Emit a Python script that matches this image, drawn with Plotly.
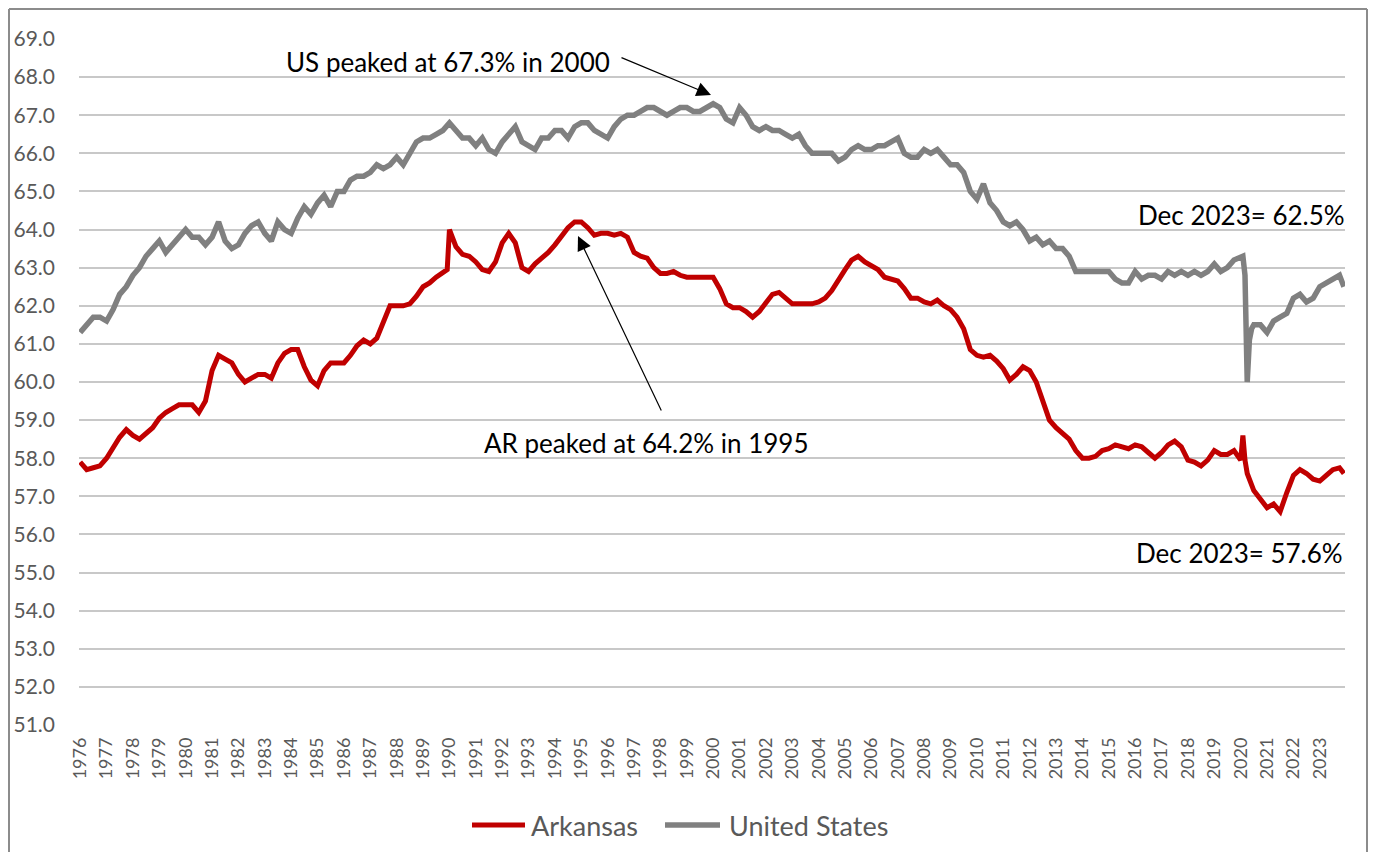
import plotly.graph_objects as go

# ---------------- data ----------------
YEARS = list(range(1976, 2024))
QUARTER_MONTHS = [1, 4, 7, 10]

# United States labour force participation rate, sampled Jan/Apr/Jul/Oct
us_quarterly = [
    61.3, 61.5, 61.7, 61.7,   # 1976
    61.6, 61.9, 62.3, 62.5,   # 1977
    62.8, 63.0, 63.3, 63.5,   # 1978
    63.7, 63.4, 63.6, 63.8,   # 1979
    64.0, 63.8, 63.8, 63.6,   # 1980
    63.8, 64.2, 63.7, 63.5,   # 1981
    63.6, 63.9, 64.1, 64.2,   # 1982
    63.9, 63.7, 64.2, 64.0,   # 1983
    63.9, 64.3, 64.6, 64.4,   # 1984
    64.7, 64.9, 64.6, 65.0,   # 1985
    65.0, 65.3, 65.4, 65.4,   # 1986
    65.5, 65.7, 65.6, 65.7,   # 1987
    65.9, 65.7, 66.0, 66.3,   # 1988
    66.4, 66.4, 66.5, 66.6,   # 1989
    66.8, 66.6, 66.4, 66.4,   # 1990
    66.2, 66.4, 66.1, 66.0,   # 1991
    66.3, 66.5, 66.7, 66.3,   # 1992
    66.2, 66.1, 66.4, 66.4,   # 1993
    66.6, 66.6, 66.4, 66.7,   # 1994
    66.8, 66.8, 66.6, 66.5,   # 1995
    66.4, 66.7, 66.9, 67.0,   # 1996
    67.0, 67.1, 67.2, 67.2,   # 1997
    67.1, 67.0, 67.1, 67.2,   # 1998
    67.2, 67.1, 67.1, 67.2,   # 1999
    67.3, 67.2, 66.9, 66.8,   # 2000
    67.2, 67.0, 66.7, 66.6,   # 2001
    66.7, 66.6, 66.6, 66.5,   # 2002
    66.4, 66.5, 66.2, 66.0,   # 2003
    66.0, 66.0, 66.0, 65.8,   # 2004
    65.9, 66.1, 66.2, 66.1,   # 2005
    66.1, 66.2, 66.2, 66.3,   # 2006
    66.4, 66.0, 65.9, 65.9,   # 2007
    66.1, 66.0, 66.1, 65.9,   # 2008
    65.7, 65.7, 65.5, 65.0,   # 2009
    64.8, 65.2, 64.7, 64.5,   # 2010
    64.2, 64.1, 64.2, 64.0,   # 2011
    63.7, 63.8, 63.6, 63.7,   # 2012
    63.5, 63.5, 63.3, 62.9,   # 2013
    62.9, 62.9, 62.9, 62.9,   # 2014
    62.9, 62.7, 62.6, 62.6,   # 2015
    62.9, 62.7, 62.8, 62.8,   # 2016
    62.7, 62.9, 62.8, 62.9,   # 2017
    62.8, 62.9, 62.8, 62.9,   # 2018
    63.1, 62.9, 63.0, 63.2,   # 2019
    63.3, 60.0, 61.5, 61.5,   # 2020
    61.3, 61.6, 61.7, 61.8,   # 2021
    62.2, 62.3, 62.1, 62.2,   # 2022
    62.5, 62.6, 62.7, 62.8,   # 2023
]
us_extra_months = ["2020-02-01", "2020-03-01", "2020-05-01", "2020-06-01", "2023-12-01"]
us_extra_values = [63.3, 62.8, 61.1, 61.4, 62.5]

# Arkansas labour force participation rate, sampled Jan/Apr/Jul/Oct
ar_quarterly = [
    57.9, 57.7, 57.75, 57.8,    # 1976
    58.0, 58.3, 58.55, 58.75,   # 1977
    58.6, 58.5, 58.65, 58.8,    # 1978
    59.05, 59.2, 59.3, 59.4,    # 1979
    59.4, 59.4, 59.2, 59.5,     # 1980
    60.3, 60.7, 60.6, 60.5,     # 1981
    60.2, 60.0, 60.1, 60.2,     # 1982
    60.2, 60.1, 60.5, 60.75,    # 1983
    60.85, 60.85, 60.4, 60.05,  # 1984
    59.9, 60.3, 60.5, 60.5,     # 1985
    60.5, 60.7, 60.95, 61.1,    # 1986
    61.0, 61.15, 61.55, 62.0,   # 1987
    62.0, 62.0, 62.05, 62.25,   # 1988
    62.5, 62.6, 62.75, 62.85,   # 1989
    64.0, 63.55, 63.35, 63.3,   # 1990
    63.15, 62.95, 62.9, 63.15,  # 1991
    63.65, 63.9, 63.65, 63.0,   # 1992
    62.9, 63.1, 63.25, 63.4,    # 1993
    63.6, 63.8, 64.05, 64.2,    # 1994
    64.2, 64.05, 63.85, 63.9,   # 1995
    63.9, 63.85, 63.9, 63.8,    # 1996
    63.4, 63.3, 63.25, 63.0,    # 1997
    62.85, 62.85, 62.9, 62.8,   # 1998
    62.75, 62.75, 62.75, 62.75, # 1999
    62.75, 62.45, 62.05, 61.95, # 2000
    61.95, 61.85, 61.7, 61.85,  # 2001
    62.1, 62.3, 62.35, 62.2,    # 2002
    62.05, 62.05, 62.05, 62.05, # 2003
    62.1, 62.2, 62.4, 62.7,     # 2004
    62.95, 63.2, 63.3, 63.15,   # 2005
    63.05, 62.95, 62.75, 62.7,  # 2006
    62.65, 62.45, 62.2, 62.2,   # 2007
    62.1, 62.05, 62.15, 62.0,   # 2008
    61.9, 61.7, 61.4, 60.85,    # 2009
    60.7, 60.65, 60.7, 60.55,   # 2010
    60.35, 60.05, 60.2, 60.4,   # 2011
    60.3, 60.0, 59.45, 59.0,    # 2012
    58.8, 58.65, 58.5, 58.2,    # 2013
    58.0, 58.0, 58.05, 58.2,    # 2014
    58.25, 58.35, 58.3, 58.25,  # 2015
    58.35, 58.3, 58.15, 58.0,   # 2016
    58.15, 58.35, 58.45, 58.3,  # 2017
    57.95, 57.9, 57.8, 57.95,   # 2018
    58.2, 58.1, 58.1, 58.2,     # 2019
    57.95, 57.6, 57.15, 56.9,   # 2020
    56.7, 56.8, 56.6, 57.1,     # 2021
    57.55, 57.7, 57.6, 57.45,   # 2022
    57.4, 57.55, 57.7, 57.75,   # 2023
]
ar_extra_months = ["1989-12-01", "2020-02-01", "2020-03-01", "2023-12-01"]
ar_extra_values = [62.95, 58.6, 57.95, 57.6]

tick_years = [str(y) for y in YEARS]

# ---------------- build series ----------------
quarter_dates = [f"{y}-{m:02d}-01" for y in YEARS for m in QUARTER_MONTHS]


def merge(dates, vals, extra_dates, extra_vals):
    pts = sorted(zip(dates + extra_dates, vals + extra_vals))
    return [p[0] for p in pts], [p[1] for p in pts]


us_x, us_y = merge(quarter_dates, us_quarterly, us_extra_months, us_extra_values)
ar_x, ar_y = merge(quarter_dates, ar_quarterly, ar_extra_months, ar_extra_values)

# the page body adds an 8 px margin; keep the figure inside the window
OFF = 8
W, H = 1376 - 2 * OFF, 860 - 2 * OFF
RED = "#C00000"
GREY = "#808080"
TXT = "#595959"
FONT = "Lato, 'Open Sans', sans-serif"


def px(x):
    return (x - OFF) / W


def py(y):
    return 1 - (y - OFF) / H


fig = go.Figure()
fig.add_trace(go.Scatter(x=ar_x, y=ar_y, mode="lines", name="Arkansas",
                         line=dict(color=RED, width=5), showlegend=False))
fig.add_trace(go.Scatter(x=us_x, y=us_y, mode="lines", name="United States",
                         line=dict(color=GREY, width=5.5), showlegend=False))

fig.update_layout(
    width=W, height=H,
    margin=dict(l=0, r=0, t=0, b=0, autoexpand=False),
    paper_bgcolor="white", plot_bgcolor="white",
    font=dict(family=FONT, color=TXT),
    xaxis=dict(
        domain=[px(79), px(1345)],
        type="date",
        range=["1975-12-16", "2023-12-16"],
        tickmode="array",
        tickvals=[f"{y}-01-01" for y in YEARS],
        ticktext=tick_years,
        tickangle=-90,
        tickfont=dict(size=18, color=TXT, family=FONT),
        showgrid=False, zeroline=False, showline=False,
        ticks="", ticklabelstandoff=8,
    ),
    yaxis=dict(
        domain=[py(725), py(39)],
        range=[51, 69],
        tick0=51, dtick=1,
        tickformat=".1f",
        tickfont=dict(size=21, color=TXT, family=FONT),
        showgrid=True, gridcolor="#C8C8C8", gridwidth=2,
        zeroline=False, showline=False,
        ticks="", ticklabelstandoff=23,
    ),
)

# chart border (top, left, right edges)
border = dict(color="#8C8C8C", width=2)
bx0, bx1, by_top = px(9), px(1367), py(9)
fig.add_shape(type="line", xref="paper", yref="paper", x0=bx0, x1=bx1,
              y0=by_top, y1=by_top, line=border, layer="above")
fig.add_shape(type="line", xref="paper", yref="paper", x0=bx0, x1=bx0,
              y0=0, y1=by_top, line=border, layer="above")
fig.add_shape(type="line", xref="paper", yref="paper", x0=bx1, x1=bx1,
              y0=0, y1=by_top, line=border, layer="above")

ann_font = dict(size=26, color="black", family=FONT)
fig.add_annotation(text="US peaked at 67.3% in 2000", xref="paper", yref="paper",
                   x=px(448), y=py(62), xanchor="center", yanchor="middle",
                   showarrow=False, font=ann_font)
fig.add_annotation(text="AR peaked at 64.2% in 1995", xref="paper", yref="paper",
                   x=px(646), y=py(443), xanchor="center", yanchor="middle",
                   showarrow=False, font=ann_font)
fig.add_annotation(text="Dec 2023= 62.5%", xref="paper", yref="paper",
                   x=px(1347), y=py(215), xanchor="right", yanchor="middle",
                   showarrow=False, font=ann_font)
fig.add_annotation(text="Dec 2023= 57.6%", xref="paper", yref="paper",
                   x=px(1345), y=py(553), xanchor="right", yanchor="middle",
                   showarrow=False, font=ann_font)

# arrows
fig.add_annotation(text="", xref="paper", yref="paper", x=px(711), y=py(95),
                   ax=-91, ay=-38, showarrow=True, arrowhead=2, arrowsize=2.4,
                   arrowwidth=1.2, arrowcolor="black", standoff=0)
fig.add_annotation(text="", xref="paper", yref="paper", x=px(578), y=py(236),
                   ax=84, ay=176, showarrow=True, arrowhead=2, arrowsize=2.4,
                   arrowwidth=1.2, arrowcolor="black", standoff=0)

# legend (drawn manually)
leg_y = py(825)
fig.add_shape(type="line", xref="paper", yref="paper", x0=px(472), x1=px(525),
              y0=leg_y, y1=leg_y, line=dict(color=RED, width=5))
fig.add_annotation(text="Arkansas", xref="paper", yref="paper", x=px(529), y=leg_y,
                   xanchor="left", yanchor="middle", showarrow=False,
                   font=dict(size=27, color=TXT, family=FONT))
fig.add_shape(type="line", xref="paper", yref="paper", x0=px(665), x1=px(720),
              y0=leg_y, y1=leg_y, line=dict(color=GREY, width=5.5))
fig.add_annotation(text="United States", xref="paper", yref="paper", x=px(727), y=leg_y,
                   xanchor="left", yanchor="middle", showarrow=False,
                   font=dict(size=27, color=TXT, family=FONT))

fig.write_html("out.html")
